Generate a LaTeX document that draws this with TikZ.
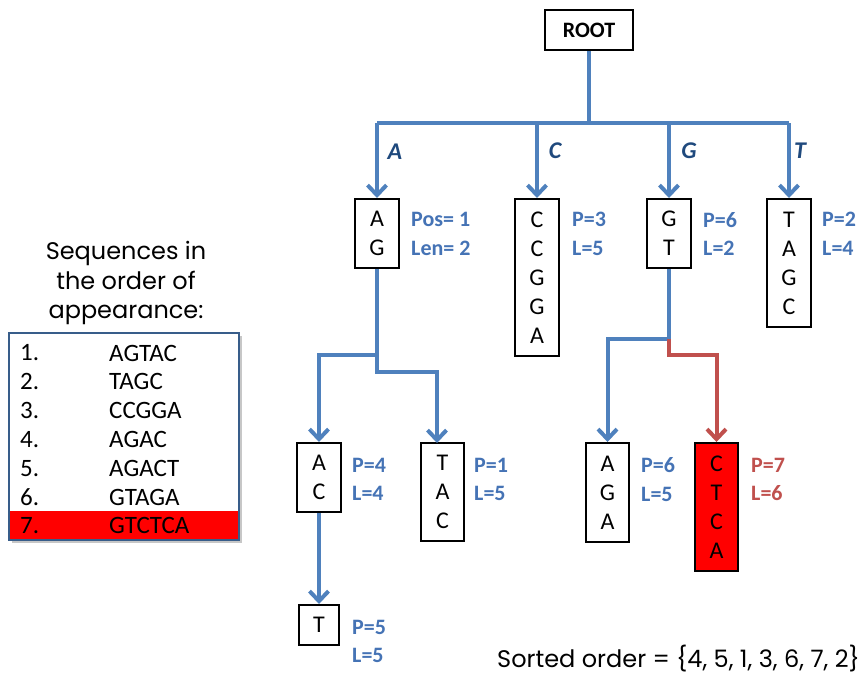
\documentclass[tikz,border=0pt]{standalone}
\usepackage{fontspec}
\setmainfont{Carlito}
\newfontfamily\geofont{Poppins}
\usetikzlibrary{arrows.meta}
\definecolor{linkblue}{HTML}{4F81BD}
\definecolor{tagblue}{HTML}{4573B5}
\definecolor{edgenavy}{HTML}{1F497D}
\definecolor{hitred}{HTML}{C0504D}
\definecolor{boxred}{HTML}{FF0000}
\definecolor{frameblue}{HTML}{385D8A}
\begin{document}
\begin{tikzpicture}[x=1pt,y=-1pt,
  link/.style={draw=linkblue, line width=4pt},
  hit/.style={draw=hitred, line width=4pt},
  arrowend/.style={-{Straight Barb[length=10pt,width=19pt]}},
  seqbox/.style={draw, line width=2pt, inner sep=0pt, align=center,
    minimum width=44pt, font=\fontsize{24}{29}\selectfont},
  info/.style={anchor=west, align=left, inner sep=0pt, text=tagblue,
    font=\bfseries\fontsize{22}{28.5}\selectfont},
  edgelbl/.style={text=edgenavy, inner sep=0pt,
    font=\bfseries\itshape\fontsize{24}{26}\selectfont},
  listtext/.style={anchor=west, inner sep=0pt, font=\fontsize{25}{27}\selectfont}
]
\useasboundingbox (0,0) rectangle (858,674);

% ---- suffix tree nodes ----
\node[seqbox, minimum width=88pt, minimum height=40pt, font=\bfseries\fontsize{22}{24}\selectfont] (root) at (589,30) {ROOT};
\node[seqbox, minimum height=69pt]  (ag)    at (377,233.5) {A\\G};
\node[seqbox, minimum height=157pt] (ccgga) at (537,277.5) {C\\C\\G\\G\\A};
\node[seqbox, minimum height=69pt]  (gt)    at (669,233.5) {G\\T};
\node[seqbox, minimum height=128pt] (tagc)  at (789,263)   {T\\A\\G\\C};
\node[seqbox, minimum height=69pt]  (ac)    at (319,477.5) {A\\C};
\node[seqbox, minimum height=98pt, minimum width=43pt] (tac) at (442.5,492) {T\\A\\C};
\node[seqbox, minimum height=99pt, minimum width=43pt] (aga) at (607.5,492.5) {A\\G\\A};
\node[seqbox, minimum height=128pt, minimum width=43pt, fill=boxred] (ctca) at (716.5,507) {C\\T\\C\\A};
\node[seqbox, minimum height=40pt, minimum width=40pt] (t) at (319,625) {T};

% ---- position / length annotations ----
\node[info] (iag)    at (411,234)   {Pos= 1\\Len= 2};
\node[info] (iccgga) at (572,234)   {P=3\\L=5};
\node[info] (igt)    at (703,234)   {P=6\\L=2};
\node[info] (itagc)  at (822,234)   {P=2\\L=4};
\node[info] (iac)    at (352,479.5) {P=4\\L=4};
\node[info] (itac)   at (474,479.5) {P=1\\L=5};
\node[info] (iaga)   at (641,479.5) {P=6\\L=5};
\node[info, text=hitred] (ictca) at (751,479.5) {P=7\\L=6};
\node[info] (it)     at (352,641.5) {P=5\\L=5};

% ---- first-level branches ----
\coordinate (bar) at (589,123);
\draw[link] (root.south) -- (bar);
\draw[link] (ag.north |- bar) -- (tagc.north |- bar);
\draw[link, arrowend] (ag.north |- bar) -- (ag.north);
\draw[link, arrowend] (ccgga.north |- bar) -- (ccgga.north);
\draw[link, arrowend] (gt.north |- bar) -- (gt.north);
\draw[link, arrowend] (tagc.north |- bar) -- (tagc.north);
\node[edgelbl] (la) at (395,152) {A};
\node[edgelbl] (lc) at (555,151) {C};
\node[edgelbl] (lg) at (689,151) {G};
\node[edgelbl] (lt) at (800,151) {T};

% ---- branches below AG ----
\coordinate (j1) at (377,355);
\coordinate (j2) at (377,372);
\coordinate (tacin) at (437,443);
\draw[link, arrowend] (ag.south) -- (j2) -| (tacin);
\draw[link, arrowend] (j1) -| (ac.north);
\draw[link, arrowend] (ac.south) -- (t.north);

% ---- branches below GT ----
\coordinate (k1) at (669,339);
\coordinate (k2) at (669,355);
\draw[link, arrowend] (gt.south) -- (k1) -| (aga.north);
\draw[hit, arrowend] (k1) -- (k2) -| (ctca.north);

% ---- list of sequences ----
\node[font=\geofont\fontsize{24}{29.5}\selectfont, align=center, inner sep=0pt] (heading) at (126,283) {Sequences in\\the order of\\appearance:};
\fill[black, opacity=0.22] (12,336) rectangle (242,543);
\node[draw=frameblue, line width=2.5pt, fill=white, minimum width=230pt, minimum height=207pt, inner sep=0pt] (seqlist) at (124,436.5) {};
\fill[boxred] (10.3,511) rectangle (237.7,538.7);
\foreach \k/\s in {1/AGTAC,2/TAGC,3/CCGGA,4/AGAC,5/AGACT,6/GTAGA,7/GTCTCA}{
  \node[listtext] (num\k) at (20,{353+28.8*(\k-1)}) {\k.};
  \node[listtext] (seq\k) at (109,{353+28.8*(\k-1)}) {\s};
}

\node[font=\geofont\fontsize{24}{26}\selectfont, anchor=base west, inner sep=0pt] (sorted) at (497,667) {Sorted order = \{4, 5, 1, 3, 6, 7, 2\}};
\end{tikzpicture}
\end{document}
